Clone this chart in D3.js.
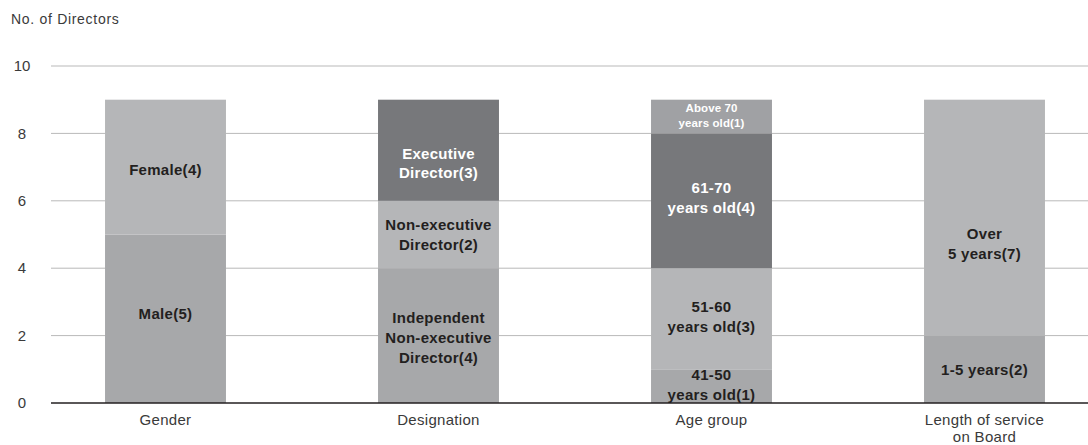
<!DOCTYPE html>
<html>
<head>
<meta charset="utf-8">
<script src="https://cdn.jsdelivr.net/npm/d3@7"></script>
<style>
  body { margin: 0; background: #fff; }
  svg { display: block; font-family: "Liberation Sans", Arial, Helvetica, sans-serif; }
</style>
</head>
<body>
<svg id="chart" width="1088" height="445"></svg>
<script>
// ---- data ----
const categories = ["Gender", "Designation", "Age group", "Length of service\non Board"];
const segmentLabels = [
  ["Male(5)", "Female(4)"],
  ["Independent\nNon-executive\nDirector(4)", "Non-executive\nDirector(2)", "Executive\nDirector(3)"],
  ["41-50\nyears old(1)", "51-60\nyears old(3)", "61-70\nyears old(4)", "Above 70\nyears old(1)"],
  ["1-5 years(2)", "Over\n5 years(7)"]
];
const segmentValues = [
  [5, 4],
  [4, 2, 3],
  [1, 3, 4, 1],
  [2, 7]
];
const yTicks = [0, 2, 4, 6, 8, 10];
const yTitle = "No. of Directors";

// ---- styles (not data) ----
const segColors = [
  ["#a7a8aa", "#b5b6b8"],
  ["#a7a8aa", "#b5b6b8", "#77787b"],
  ["#a7a8aa", "#b5b6b8", "#77787b", "#a0a1a4"],
  ["#a7a8aa", "#b5b6b8"]
];
const segText = [
  ["#231f20", "#231f20"],
  ["#231f20", "#231f20", "#ffffff"],
  ["#231f20", "#231f20", "#ffffff", "#ffffff"],
  ["#231f20", "#231f20"]
];
const segFont = [
  [15, 15], [15, 15, 15], [15, 15, 15, 11.5], [15, 15]
];
const segNudge = [
  [-5, 3], [2, 0, 13], [-1, -2, -3, -1], [0, 26]
];

const svg = d3.select("#chart");
const y = d3.scaleLinear().domain([0, 10]).range([403, 66]);
const x = d3.scaleBand().domain(categories).range([29, 1121]).paddingInner(0.557).paddingOuter(0.2785);

// gridlines
svg.append("g").selectAll("line").data(yTicks.filter(d => d > 0)).join("line")
  .attr("x1", 51).attr("x2", 1088)
  .attr("y1", d => y(d)).attr("y2", d => y(d))
  .attr("stroke", "#b9b9b9").attr("stroke-width", 1);

// tick labels
svg.append("g").selectAll("text").data(yTicks).join("text")
  .attr("x", 22).attr("y", d => y(d)).attr("dy", "0.35em")
  .attr("text-anchor", "middle").attr("font-size", 15).attr("fill", "#3a3a3a")
  .text(d => d);

svg.append("text").attr("x", 11).attr("y", 24)
  .attr("font-size", 14).attr("letter-spacing", 0.7).attr("fill", "#3a3a3a").text(yTitle);

// bars
categories.forEach((cat, ci) => {
  let acc = 0;
  const g = svg.append("g");
  segmentValues[ci].forEach((v, si) => {
    const y0 = acc, y1 = acc + v;
    acc = y1;
    g.append("rect")
      .attr("x", x(cat)).attr("width", x.bandwidth())
      .attr("y", y(y1)).attr("height", y(y0) - y(y1))
      .attr("fill", segColors[ci][si]);
    const lines = segmentLabels[ci][si].split("\n");
    const fs = segFont[ci][si];
    const lh = fs * 1.33;
    const cy = (y(y0) + y(y1)) / 2 + segNudge[ci][si];
    const t = g.append("text")
      .attr("text-anchor", "middle").attr("font-weight", "bold")
      .attr("font-size", fs).attr("letter-spacing", fs > 12 ? 0.3 : 0.1)
      .attr("fill", segText[ci][si]);
    lines.forEach((ln, li) => {
      t.append("tspan").attr("x", x(cat) + x.bandwidth() / 2)
        .attr("y", cy + (li - (lines.length - 1) / 2) * lh)
        .attr("dy", "0.35em").text(ln);
    });
  });
});

// baseline
svg.append("line").attr("x1", 51).attr("x2", 1088)
  .attr("y1", y(0)).attr("y2", y(0)).attr("stroke", "#231f20").attr("stroke-width", 1.5);

// category labels
categories.forEach(cat => {
  const lines = cat.split("\n");
  const t = svg.append("text").attr("text-anchor", "middle")
    .attr("font-size", 15).attr("letter-spacing", 0.3).attr("fill", "#3a3a3a");
  lines.forEach((ln, li) => {
    t.append("tspan").attr("x", x(cat) + x.bandwidth() / 2)
      .attr("y", 425 + li * 16.5).text(ln);
  });
});
</script>
</body>
</html>
